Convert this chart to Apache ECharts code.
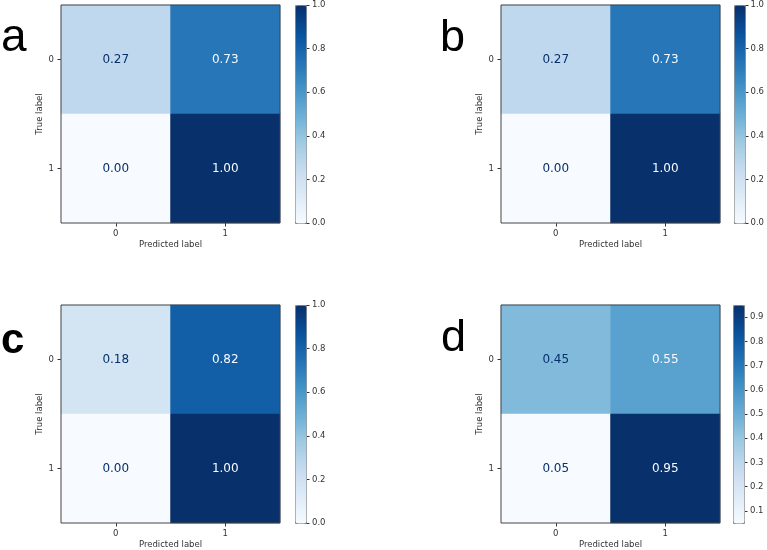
<!DOCTYPE html>
<html>
<head>
<meta charset="utf-8">
<script src="https://cdn.jsdelivr.net/npm/echarts@6/dist/echarts.min.js"></script>
<style>
  html, body { margin: 0; padding: 0; background: #fff; }
  #main { width: 767px; height: 550px; }
</style>
</head>
<body>
<div id="main"></div>
<script>
//类别
let categories = ['0', '1']
//四个混淆矩阵 (行=True label, 列=Predicted label)
let matrixA = [[0.27, 0.73], [0.00, 1.00]]
let matrixB = [[0.27, 0.73], [0.00, 1.00]]
let matrixC = [[0.18, 0.82], [0.00, 1.00]]
let matrixD = [[0.45, 0.55], [0.05, 0.95]]
//色条范围
let rangeA = [0, 1]
let rangeB = [0, 1]
let rangeC = [0, 1]
let rangeD = [0.05, 0.95]
//色条刻度
let ticksA = [0, 0.2, 0.4, 0.6, 0.8, 1.0]
let ticksB = [0, 0.2, 0.4, 0.6, 0.8, 1.0]
let ticksC = [0, 0.2, 0.4, 0.6, 0.8, 1.0]
let ticksD = [0.1, 0.2, 0.3, 0.4, 0.5, 0.6, 0.7, 0.8, 0.9]
//面板字母
let letters = ['a', 'b', 'c', 'd']

//matplotlib Blues
let blues = ['#f7fbff', '#deebf7', '#c6dbef', '#9ecae1', '#6baed6', '#4292c6', '#2171b5', '#08519c', '#08306b']

let panels = [
    {m: matrixA, r: rangeA, t: ticksA, left: 61, top: 5, cb: 295},
    {m: matrixB, r: rangeB, t: ticksB, left: 501, top: 5, cb: 734},
    {m: matrixC, r: rangeC, t: ticksC, left: 61, top: 305, cb: 295},
    {m: matrixD, r: rangeD, t: ticksD, left: 501, top: 305, cb: 733}
]
//字母位置和大小
let letterPos = [
    {x: 1, base: 54, size: 46, weight: 'normal'},
    {x: 440, base: 54, size: 45, weight: 'normal'},
    {x: 1, base: 356, size: 42, weight: 'bold'},
    {x: 441, base: 354, size: 45, weight: 'normal'}
]

let textColor = '#333'
let font = 'DejaVu Sans'
let grids = [], xAxes = [], yAxes = [], series = [], visualMaps = [], graphics = []

panels.forEach((p, i) => {
    let mid = (p.r[0] + p.r[1]) / 2
    let data = []
    p.m.forEach((row, ri) => {
        row.forEach((v, ci) => {
            data.push({
                value: [ci, ri, v],
                label: {color: v < mid ? blues[8] : blues[0]}
            })
        })
    })

    //矩阵
    grids.push({left: p.left, top: p.top, width: 219, height: 218, show: true,
        borderColor: '#444', borderWidth: 1, z: 3})
    xAxes.push({
        type: 'category', gridIndex: 2 * i, data: categories,
        name: 'Predicted label', nameLocation: 'middle', nameGap: 17,
        nameTextStyle: {fontSize: 8.5, color: textColor, fontFamily: font},
        axisLine: {show: false},
        axisTick: {show: true, alignWithLabel: true, length: 3.5, lineStyle: {color: textColor}},
        axisLabel: {fontSize: 8.5, color: textColor, fontFamily: font, margin: 6},
        splitLine: {show: false}
    })
    yAxes.push({
        type: 'category', gridIndex: 2 * i, data: categories, inverse: true,
        name: 'True label', nameLocation: 'middle', nameGap: 14,
        nameTextStyle: {fontSize: 8.5, color: textColor, fontFamily: font},
        axisLine: {show: false},
        axisTick: {show: true, alignWithLabel: true, length: 3.5, lineStyle: {color: textColor}},
        axisLabel: {fontSize: 8.5, color: textColor, fontFamily: font, margin: 7},
        splitLine: {show: false}
    })
    series.push({
        type: 'heatmap', xAxisIndex: 2 * i, yAxisIndex: 2 * i, data: data,
        label: {show: true, fontSize: 12, fontFamily: font,
            formatter: d => d.value[2].toFixed(2)},
        emphasis: {disabled: true}
    })
    //色条
    visualMaps.push({
        type: 'continuous', seriesIndex: i, dimension: 2,
        min: p.r[0], max: p.r[1], calculable: false, hoverLink: false,
        orient: 'vertical', left: p.cb, top: p.top, padding: 0,
        itemWidth: 11, itemHeight: 218, text: null,
        borderColor: '#888', borderWidth: 1,
        inRange: {color: blues}
    })

    //色条刻度 (贴在色条右边的窄grid)
    grids.push({left: p.cb + 11, top: p.top, width: 1, height: 218})
    xAxes.push({type: 'value', gridIndex: 2 * i + 1, show: false})
    yAxes.push({
        type: 'value', gridIndex: 2 * i + 1, position: 'right',
        min: p.r[0], max: p.r[1],
        axisLine: {show: false},
        splitLine: {show: false},
        axisTick: {show: true, length: 3.5, customValues: p.t, lineStyle: {color: textColor}},
        axisLabel: {fontSize: 8.5, color: textColor, fontFamily: font, margin: 5,
            customValues: p.t, formatter: v => v.toFixed(1)}
    })

    let lp = letterPos[i]
    graphics.push({
        type: 'text', x: lp.x, y: lp.base - 0.35 * lp.size,
        style: {text: letters[i], fill: '#000', fontSize: lp.size, fontWeight: lp.weight,
            fontFamily: 'Liberation Sans', verticalAlign: 'middle', align: 'left'}
    })
})

let myChart = echarts.init(document.getElementById('main'))
let option = {
    animation: false,
    backgroundColor: '#fff',
    grid: grids,
    xAxis: xAxes,
    yAxis: yAxes,
    visualMap: visualMaps,
    series: series,
    graphic: graphics
}
myChart.setOption(option)
</script>
</body>
</html>
